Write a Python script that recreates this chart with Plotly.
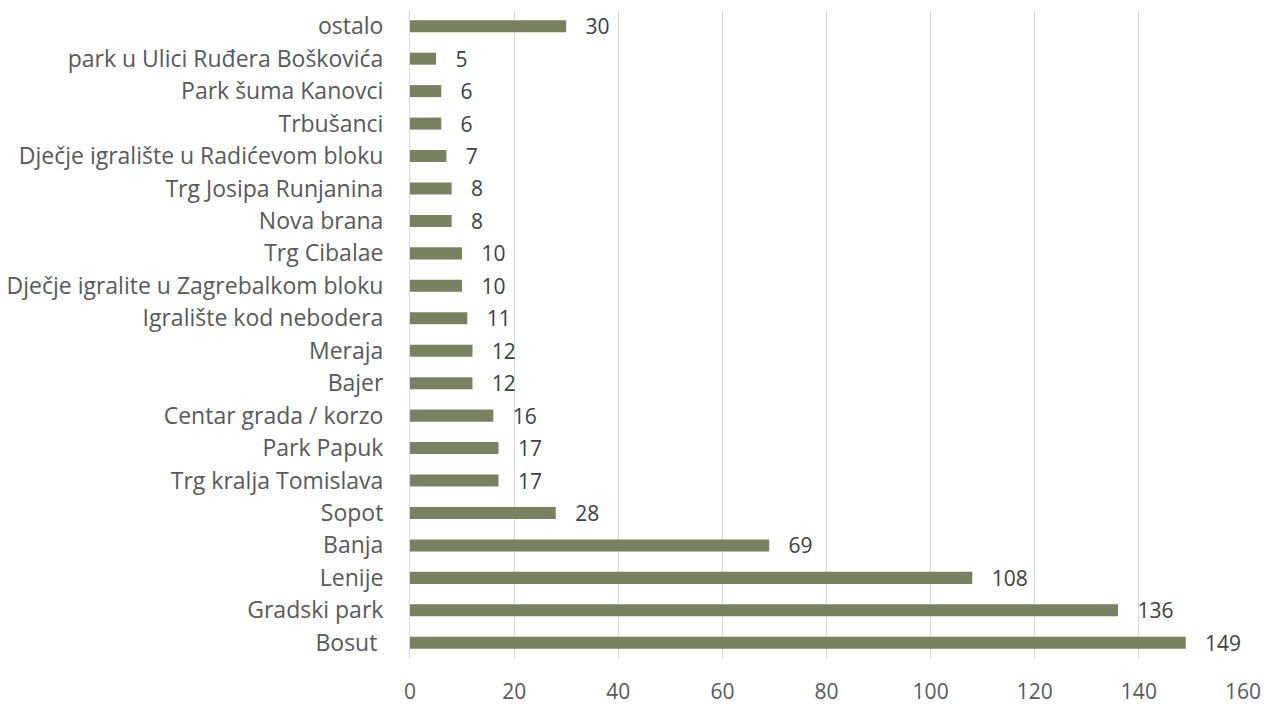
import plotly.graph_objects as go

places = ['Bosut\u00a0', 'Gradski park', 'Lenije', 'Banja', 'Sopot', 'Trg kralja Tomislava',
          'Park Papuk', 'Centar grada / korzo', 'Bajer', 'Meraja', 'Igralište kod nebodera',
          'Dječje igralite u Zagrebalkom bloku', 'Trg Cibalae', 'Nova brana',
          'Trg Josipa Runjanina', 'Dječje igralište u Radićevom bloku', 'Trbušanci',
          'Park šuma Kanovci', 'park u Ulici Ruđera Boškovića', 'ostalo']
counts = [149, 136, 108, 69, 28, 17, 17, 16, 12, 12, 11, 10, 10, 8, 8, 7, 6, 6, 5, 30]
x_ticks = [0, 20, 40, 60, 80, 100, 120, 140, 160]

fig = go.Figure()
fig.add_trace(go.Bar(
    x=counts, y=places, orientation='h',
    marker=dict(color='#7a8160', line=dict(width=0)),
    text=['\u00a0\u00a0\u00a0' + str(v) for v in counts],
    textposition='outside', cliponaxis=False, constraintext='none',
    textfont=dict(size=21, color='#404040'),
))
fig.update_layout(
    width=1266, height=704,
    margin=dict(l=410, r=23, t=10, b=45, autoexpand=False),
    paper_bgcolor='white', plot_bgcolor='white',
    font=dict(family='Open Sans, Noto Sans, sans-serif', size=23, color='#595959'),
    bargap=0.63, showlegend=False,
)
fig.update_xaxes(range=[0, 160], tickvals=x_ticks, showgrid=True, gridcolor='#d9d9d9',
                 gridwidth=1, zeroline=False, showline=False, ticks='',
                 ticklabelstandoff=18, automargin=False, tickfont=dict(size=21))
fig.update_yaxes(type='category', showline=True, linecolor='#d9d9d9', linewidth=1,
                 showgrid=False, ticks='', ticklabelstandoff=21, automargin=False)
# drop the default body margin so the figure fills the window exactly
fig.write_html("out.html", config={'displayModeBar': False},
               post_script="document.body.style.margin='0';")
